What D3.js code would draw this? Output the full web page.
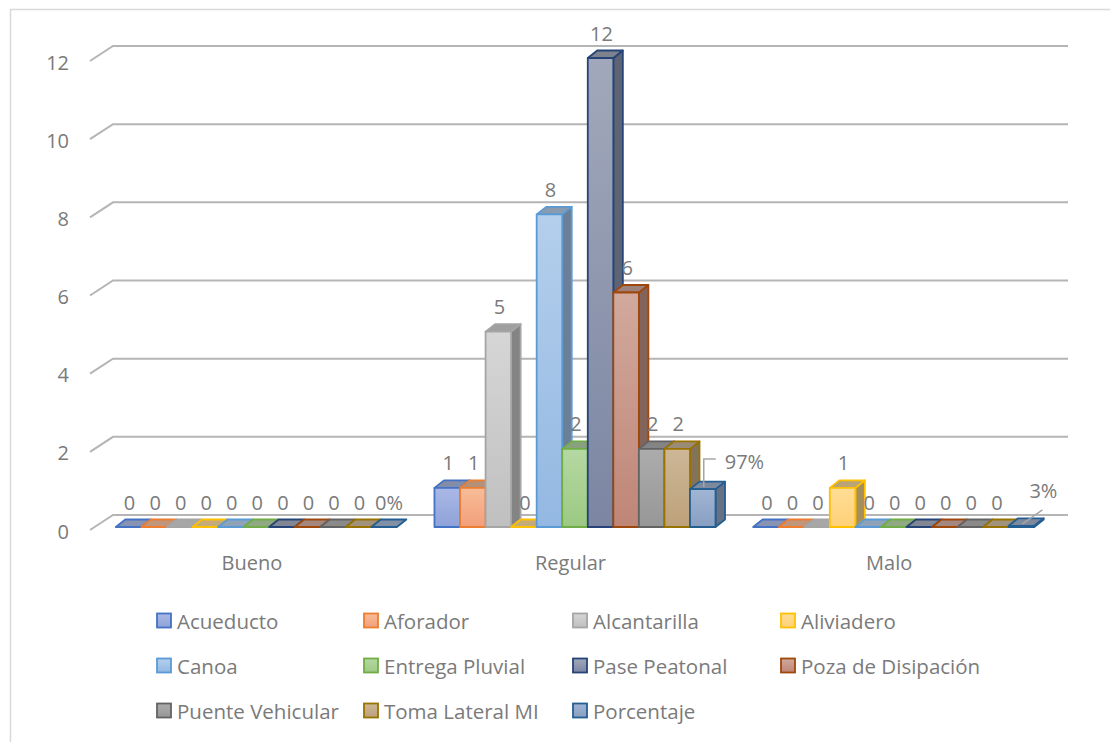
<!DOCTYPE html>
<html>
<head>
<meta charset="utf-8">
<script src="https://cdn.jsdelivr.net/npm/d3@7"></script>
<style>
  body { margin: 0; background: #fff; }
  text { font-family: "Open Sans", sans-serif; fill: #7a7a7a; }
</style>
</head>
<body>
<svg id="chart" width="1110" height="742"></svg>
<script>
// Condition of hydraulic structures by state
const categories = ["Bueno", "Regular", "Malo"];
const seriesNames = ["Acueducto", "Aforador", "Alcantarilla", "Aliviadero", "Canoa",
  "Entrega Pluvial", "Pase Peatonal", "Poza de Disipación", "Puente Vehicular",
  "Toma Lateral MI", "Porcentaje"];

const acueducto       = [0, 1, 0];
const aforador        = [0, 1, 0];
const alcantarilla    = [0, 5, 0];
const aliviadero      = [0, 0, 1];
const canoa           = [0, 8, 0];
const entregaPluvial  = [0, 2, 0];
const pasePeatonal    = [0, 12, 0];
const pozaDisipacion  = [0, 6, 0];
const puenteVehicular = [0, 2, 0];
const tomaLateral     = [0, 2, 0];
const porcentaje      = [0, 0.97, 0.03];
const porcentajeLabels = ["0%", "97%", "3%"];

const yTicks = [0, 2, 4, 6, 8, 10, 12];

const edgeColors = ["#4472C4", "#ED7D31", "#A5A5A5", "#FFC000", "#5B9BD5", "#70AD47",
  "#264478", "#9E480E", "#636363", "#997300", "#255E91"];
const fillTop = ["#aab8e5", "#f8bc98", "#d6d6d6", "#ffdd96", "#b4cfec", "#b5d8a2",
  "#a1a8bb", "#d1a99d", "#acacac", "#cdb797", "#a1b5d4"];
const fillBottom = ["#8ea3d9", "#f29f7a", "#c0c0c0", "#ffd178", "#93b8e2", "#9bc983",
  "#7c86a2", "#bf8676", "#979797", "#bda17a", "#889fc2"];

const seriesValues = [acueducto, aforador, alcantarilla, aliviadero, canoa, entregaPluvial,
  pasePeatonal, pozaDisipacion, puenteVehicular, tomaLateral, porcentaje];

const series = seriesNames.map((name, i) => ({
  name, values: seriesValues[i], edge: edgeColors[i], top: fillTop[i], bottom: fillBottom[i]
}));

const svg = d3.select("#chart");

// chart area outline
svg.append("rect")
  .attr("x", 10.5).attr("y", 9.5).attr("width", 1130).attr("height", 770)
  .attr("fill", "none").attr("stroke", "#d9d9d9").attr("stroke-width", 1.5);

// scales (front plane of the bars)
const y = d3.scaleLinear().domain([0, 12]).range([527, 58]);
const x = d3.scaleBand().domain(categories).range([97, 1053]).paddingInner(0.118).paddingOuter(0.059);
const xs = d3.scaleBand().domain(seriesNames).range([0, x.bandwidth()]);

// 3D offsets: bar depth and wall depth
const dx = 9.5, dy = -7.5;
const wallDx = 23, wallDy = -15, wallShift = -12;
const wallLeft = 113, wallRight = 1068;

// back wall gridlines with side wall diagonals
const grid = svg.append("g");
yTicks.forEach(t => {
  const yb = y(t) + wallShift;
  grid.append("path")
    .attr("d", `M${wallLeft - wallDx},${yb - wallDy} L${wallLeft},${yb} L${wallRight},${yb}`)
    .attr("fill", "none").attr("stroke", "#b5b5b5").attr("stroke-width", 2);
});

// y-axis labels
svg.append("g").selectAll("text").data(yTicks).join("text")
  .attr("x", 69).attr("y", d => y(d) + 4)
  .attr("text-anchor", "end").attr("dominant-baseline", "central")
  .style("font-size", "20px").text(d => d);

// category labels
svg.append("g").selectAll("text").data(categories).join("text")
  .attr("x", d => x(d) + x.bandwidth() / 2 - 4.5).attr("y", 562)
  .attr("text-anchor", "middle").attr("dominant-baseline", "central")
  .style("font-size", "20px").text(d => d);

// gradients per series
const defs = svg.append("defs");
series.forEach((s, i) => {
  const g = defs.append("linearGradient").attr("id", "grad" + i)
    .attr("x1", 0).attr("y1", 0).attr("x2", 0).attr("y2", 1);
  g.append("stop").attr("offset", "0%").attr("stop-color", s.top);
  g.append("stop").attr("offset", "100%").attr("stop-color", s.bottom);
});

const mix = (a, b, t) => d3.interpolateRgb(a, b)(t);

// bars, drawn left to right so each front face covers its neighbour's side
const bars = svg.append("g");
categories.forEach((c, ci) => {
  series.forEach((s, si) => {
    const v = s.values[ci];
    const x0 = x(c) + xs(s.name), w = xs.bandwidth();
    const yT = y(v), yB = y(0);
    const g = bars.append("g")
      .attr("stroke", s.edge).attr("stroke-width", 1.8).attr("stroke-linejoin", "round");
    const topFace = [[x0, yT], [x0 + dx, yT + dy], [x0 + w + dx, yT + dy], [x0 + w, yT]];
    if (v > 0) {
      const side = [[x0 + w, yT], [x0 + w + dx, yT + dy], [x0 + w + dx, yB + dy], [x0 + w, yB]];
      g.append("polygon").attr("points", side.join(" ")).attr("fill", mix(s.bottom, "#3a3a3a", 0.45));
      g.append("polygon").attr("points", topFace.join(" ")).attr("fill", mix(s.top, "#3a3a3a", 0.35));
      g.append("rect").attr("x", x0).attr("y", yT).attr("width", w).attr("height", yB - yT)
        .attr("fill", `url(#grad${si})`);
    } else {
      g.append("polygon").attr("points", topFace.join(" ")).attr("fill", mix(s.top, "#3a3a3a", 0.3));
    }
  });
});

// data labels
const labels = svg.append("g");
categories.forEach((c, ci) => {
  series.forEach((s, si) => {
    const v = s.values[ci];
    const cx = x(c) + xs(s.name) + xs.bandwidth() / 2 + 1;
    const yT = y(v);
    const isPct = s.name === "Porcentaje";
    const txt = isPct ? porcentajeLabels[ci] : String(v);
    if (isPct && ci === 1) {
      labels.append("path")
        .attr("d", `M${cx},${yT - 2} L${cx},${yT - 30} L${cx + 12},${yT - 30}`)
        .attr("fill", "none").attr("stroke", "#a6a6a6").attr("stroke-width", 1.5);
      labels.append("text").attr("x", cx + 21).attr("y", yT - 28)
        .attr("dominant-baseline", "central").style("font-size", "20px").text(txt);
    } else if (isPct && ci === 2) {
      labels.append("path")
        .attr("d", `M${cx},${yT - 2} L${cx + 20},${yT - 16}`)
        .attr("fill", "none").attr("stroke", "#a6a6a6").attr("stroke-width", 1.5);
      labels.append("text").attr("x", cx + 21).attr("y", yT - 35)
        .attr("text-anchor", "middle").attr("dominant-baseline", "central")
        .style("font-size", "20px").text(txt);
    } else {
      labels.append("text").attr("x", cx + (isPct ? 4 : 0)).attr("y", yT - 25)
        .attr("text-anchor", "middle").attr("dominant-baseline", "central")
        .style("font-size", "20px").text(txt);
    }
  });
});

// legend
const legendCols = [157, 364, 573, 781];
const legendRows = [620.5, 665.5, 710.5];
const legend = svg.append("g");
series.forEach((s, i) => {
  const lx = legendCols[i % 4], ly = legendRows[Math.floor(i / 4)];
  legend.append("rect").attr("x", lx).attr("y", ly - 7).attr("width", 14).attr("height", 14)
    .attr("fill", `url(#grad${i})`).attr("stroke", s.edge).attr("stroke-width", 1.8);
  legend.append("text").attr("x", lx + 20).attr("y", ly)
    .attr("dominant-baseline", "central").style("font-size", "20.5px").text(s.name);
});
</script>
</body>
</html>
